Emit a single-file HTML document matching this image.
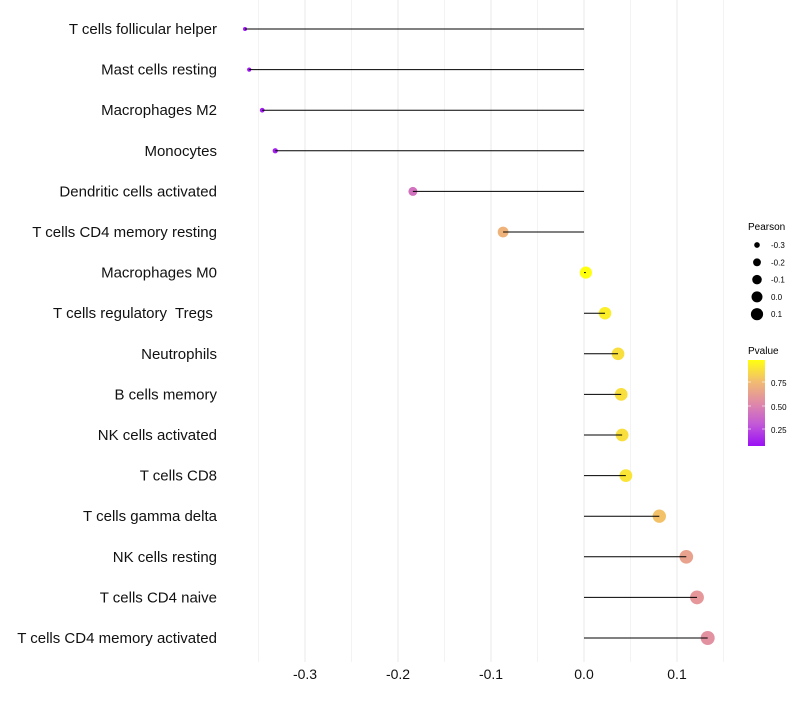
<!DOCTYPE html>
<html><head><meta charset="utf-8"><style>
body{margin:0;background:#fff;font-family:"Liberation Sans",sans-serif}
text{white-space:pre}
</style></head><body>
<svg id="c" width="800" height="700" xmlns="http://www.w3.org/2000/svg" font-family="Liberation Sans, sans-serif">
<defs><linearGradient id="pg" x1="0" y1="1" x2="0" y2="0">
<stop offset="0" stop-color="#9a10f5"/><stop offset="0.25" stop-color="#c258d8"/><stop offset="0.5" stop-color="#e08aa8"/><stop offset="0.75" stop-color="#f2bc70"/><stop offset="1" stop-color="#ffff10"/>
</linearGradient></defs>
<g id="grid"></g><g id="marks"></g><g id="ylab"></g><g id="xlab"></g>
<g id="legP">
<text x="748" y="230" font-size="10">Pearson</text>
</g>
<g>
<text x="748" y="354" font-size="10">Pvalue</text>
<rect x="748" y="360" width="17" height="86" fill="url(#pg)"/>
<g stroke="#fff" stroke-opacity="0.6"><line x1="748" x2="751" y1="382" y2="382"/><line x1="762" x2="765" y1="382" y2="382"/><line x1="748" x2="751" y1="406" y2="406"/><line x1="762" x2="765" y1="406" y2="406"/><line x1="748" x2="751" y1="429" y2="429"/><line x1="762" x2="765" y1="429" y2="429"/></g>
<text x="771" y="386" font-size="8">0.75</text><text x="771" y="410" font-size="8">0.50</text><text x="771" y="433" font-size="8">0.25</text>
</g>
</svg>
<script>
const categories=["T cells follicular helper","Mast cells resting","Macrophages M2","Monocytes","Dendritic cells activated","T cells CD4 memory resting","Macrophages M0","T cells regulatory  Tregs ","Neutrophils","B cells memory","NK cells activated","T cells CD8","T cells gamma delta","NK cells resting","T cells CD4 naive","T cells CD4 memory activated"];
const pearson=[-0.3645,-0.360,-0.346,-0.332,-0.184,-0.087,0.002,0.0226,0.0366,0.040,0.041,0.045,0.081,0.110,0.1215,0.133];
const pvalue=[0.05,0.05,0.07,0.08,0.38,0.68,0.99,0.89,0.84,0.84,0.84,0.86,0.74,0.6,0.55,0.52];
const xTicks=[-0.3,-0.2,-0.1,0.0,0.1];
const xTickLabels=["-0.3","-0.2","-0.1","0.0","0.1"];
const legendVals=[-0.3,-0.2,-0.1,0.0,0.1];
const legendLabels=["-0.3","-0.2","-0.1","0.0","0.1"];
const NS="http://www.w3.org/2000/svg";
const x=v=>584+v*930;
const y=i=>29+i*40.6;
const r=v=>Math.sqrt(Math.max(1,4+90.4*(v+0.3645)));
const stops=[[154,16,245],[194,88,216],[224,138,168],[242,188,112],[255,255,16]];
function col(p){const t=Math.max(0,Math.min(1,(p-0.03)/0.92))*4;
const k=Math.min(3,Math.floor(t)),u=t-k,a=stops[k],b=stops[k+1];
return `rgb(${a.map((c,j)=>Math.round(c+(b[j]-c)*u)).join(',')})`;}
function mk(tag,at,parent){const e=document.createElementNS(NS,tag);for(const k in at)e.setAttribute(k,at[k]);parent.appendChild(e);return e;}
const grid=document.getElementById('grid'),marks=document.getElementById('marks'),yl=document.getElementById('ylab'),xl=document.getElementById('xlab'),lp=document.getElementById('legP');
for(let v=-0.35;v<=0.151;v+=0.05){const g=mk('line',{x1:x(v),x2:x(v),y1:0,y2:662,stroke:'#ebebeb','stroke-width':Math.abs(Math.round(v*20)%2)==1?0.6:1.1},grid);

}
xTicks.forEach((v,i)=>{const t=mk('text',{x:x(v),y:679,'font-size':14,'text-anchor':'middle',fill:'#111'},xl);t.textContent=xTickLabels[i];

});
categories.forEach((c,i)=>{
const t=mk('text',{x:217,y:y(i)+5,'font-size':15,'text-anchor':'end',fill:'#111'},yl);t.textContent=c;


const d=mk('circle',{cx:x(pearson[i]),cy:y(i),r:r(pearson[i]),fill:col(pvalue[i])},marks);


const l=mk('line',{x1:x(0),x2:x(pearson[i]),y1:y(i),y2:y(i),stroke:'#000','stroke-width':1},marks);


});
legendVals.forEach((v,i)=>{const cy=245+i*17.3;
const d=mk('circle',{cx:757,cy:cy,r:r(v)*0.9,fill:'#000'},lp);


const t=mk('text',{x:771,y:cy+3,'font-size':8},lp);t.textContent=legendLabels[i];

});
</script>
</body></html>
